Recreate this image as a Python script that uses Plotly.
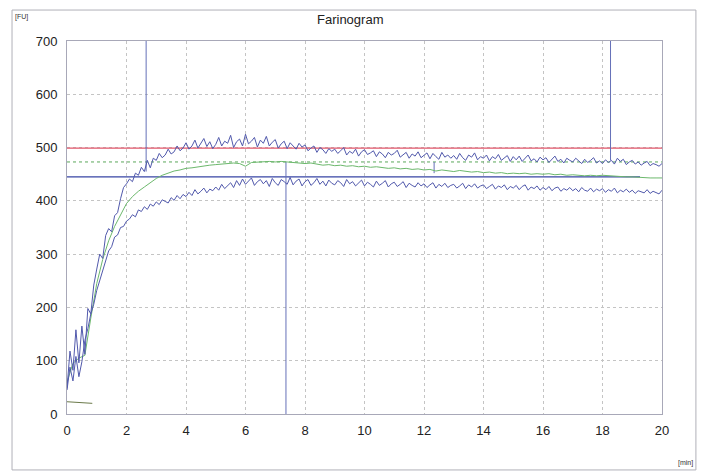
import plotly.graph_objects as go

# ---------------- data ----------------
t_fine = [i / 10 for i in range(201)]          # 0.0 .. 20.0 min
t_green = [i / 5 for i in range(101)]          # 0.0 .. 20.0 min

upper = [
    48, 118, 82, 158, 96, 165, 112, 198, 188, 242,
    272, 300, 292, 335, 348, 342, 372, 378, 404, 425,
    432, 441, 436, 452, 448, 463, 455, 476, 462, 480,
    476, 489, 481, 486, 497, 488, 492, 503, 494, 499,
    509, 497, 503, 514, 499, 507, 517, 502, 511, 498,
    506, 519, 503, 512, 508, 523, 500, 511, 516, 503,
    525, 507, 512, 519, 501, 514, 508, 521, 503, 510,
    515, 499, 507, 512, 498, 509, 503, 497, 508, 501,
    505, 494, 499, 503, 491, 500, 496, 489, 498, 493,
    497, 489, 494, 500, 486, 493, 489, 497, 484, 492,
    496, 487, 490, 494, 483, 492, 488, 481, 491, 486,
    489, 495, 482, 487, 491, 480, 488, 484, 492, 481,
    486, 490, 479, 489, 483, 478, 491, 482, 486, 480,
    485, 478, 489, 481, 476, 486, 482, 490, 477, 483,
    480, 486, 475, 483, 479, 487, 476, 481, 485, 474,
    483, 477, 484, 474, 480, 486, 475, 479, 473, 482,
    477, 481, 472, 479, 484, 474, 478, 471, 480, 476,
    473, 480, 474, 470, 478, 472, 476, 481, 471, 475,
    470, 477, 472, 476, 469, 480, 474, 478, 468, 473,
    476, 469, 473, 467, 471, 474, 466, 470, 468, 465,
    470,
]

lower = [
    45, 88, 62, 108, 70, 98, 138, 160, 188, 206,
    232, 250, 272, 288, 306, 314, 332, 336, 350, 352,
    362, 366, 374, 370, 383, 380, 389, 384, 394, 390,
    398, 393, 402, 399, 396, 406, 401, 410, 404, 412,
    408, 416, 410, 421, 413, 418, 424, 415, 422, 419,
    426, 420, 431, 423, 428, 434, 425, 438, 429, 441,
    431, 437, 443, 429, 436, 440, 432, 438, 427, 442,
    434, 429, 440, 436, 431, 444, 430, 437, 441, 428,
    436, 440, 429, 434, 442, 431, 437, 428, 439, 433,
    430, 438, 434, 427, 440, 432, 436, 428, 434, 439,
    428, 435, 431, 426, 437, 429, 433, 438, 426, 432,
    435, 427, 431, 436, 425, 433, 429, 426, 434, 428,
    432, 425, 430, 434, 424, 431, 427, 433, 425, 429,
    431, 424, 428, 433, 423, 430, 426, 432, 424, 428,
    430, 423, 427, 431, 422, 428, 425, 430, 421, 427,
    424, 429, 421, 427, 430, 420, 426, 423, 428, 420,
    425, 421, 427, 419, 424, 426, 418, 423, 420, 425,
    419, 423, 417, 425, 420, 418, 424, 417, 422, 419,
    423, 416, 421, 418, 424, 415, 420, 417, 422, 416,
    420, 414, 419, 417, 415, 421, 414, 418, 416, 413,
    420,
]

middle = [
    60, 95, 105, 110, 180, 245, 290, 325, 352, 375,
    395, 408, 418, 426, 434, 442, 448, 452, 456, 458,
    461, 462, 464, 466, 467, 468, 469, 470, 471, 470,
    465, 472, 473, 473, 474, 473, 474, 473, 472, 471,
    470, 471, 469, 467, 468, 466, 467, 465, 466, 464,
    465, 463, 464, 462, 461, 462, 460, 461, 459, 460,
    458, 459, 456, 458, 456, 455, 457, 455, 454, 455,
    453, 454, 452, 453, 451, 452, 451, 452, 450, 451,
    450, 451, 449, 450, 448, 449, 448, 447, 448, 447,
    448, 447, 446, 446, 445, 445, 444, 444, 443, 443,
    443,
]

# baseline trace near start
base_t = [0.0, 0.3, 0.6, 0.85]
base_v = [23, 22, 21, 20]

# reference levels
red_level = 499
green_level = 473
blue_level = 445
blue_level_end = 19.26

# vertical markers: time, from, to
marker_t = [2.66, 7.36, 12.34, 18.27]
marker_from = [700, 473, 473, 700]
marker_to = [455, 0, 452, 476]

x_ticks = [0, 2, 4, 6, 8, 10, 12, 14, 16, 18, 20]
y_ticks = [0, 100, 200, 300, 400, 500, 600, 700]

# ---------------- figure ----------------
BLUE = "#5159ac"
fig = go.Figure()

fig.add_trace(go.Scatter(x=[0, 20], y=[red_level, red_level], mode="lines",
                         line=dict(color="#e2566a", width=1.3)))
fig.add_trace(go.Scatter(x=[0, 20], y=[green_level, green_level], mode="lines",
                         line=dict(color="#5aa85a", width=1, dash="dot")))
fig.add_trace(go.Scatter(x=[0, blue_level_end], y=[blue_level, blue_level], mode="lines",
                         line=dict(color="#3745a4", width=1.3)))

for tm, a, b in zip(marker_t, marker_from, marker_to):
    fig.add_trace(go.Scatter(x=[tm, tm], y=[a, b], mode="lines",
                             line=dict(color="#6570b8", width=1)))

fig.add_trace(go.Scatter(x=t_green, y=middle, mode="lines",
                         line=dict(color="#6cb86c", width=1)))
fig.add_trace(go.Scatter(x=t_fine, y=upper, mode="lines",
                         line=dict(color=BLUE, width=1)))
fig.add_trace(go.Scatter(x=t_fine, y=lower, mode="lines",
                         line=dict(color=BLUE, width=1)))
fig.add_trace(go.Scatter(x=base_t, y=base_v, mode="lines",
                         line=dict(color="#6b7a4a", width=1)))

axis_font = dict(family="Liberation Sans, Arial, sans-serif", size=13, color="#222")

fig.update_layout(
    width=701, height=472,
    margin=dict(l=67, r=39, t=41, b=58, autoexpand=False),
    paper_bgcolor="white", plot_bgcolor="white",
    showlegend=False,
    xaxis=dict(range=[0, 20], tickvals=x_ticks, ticks="", showgrid=True,
               gridcolor="#c4c4c4", griddash="dot", gridwidth=1,
               showline=True, linecolor="#a8a8b8", linewidth=1, mirror=True,
               zeroline=False, tickfont=axis_font, ticklabelstandoff=4,
               fixedrange=True),
    yaxis=dict(range=[0, 700], tickvals=y_ticks, ticks="", showgrid=True,
               gridcolor="#c4c4c4", griddash="dot", gridwidth=1,
               showline=True, linecolor="#a8a8b8", linewidth=1, mirror=True,
               zeroline=False, tickfont=axis_font, ticklabelstandoff=6,
               fixedrange=True),
    shapes=[dict(type="rect", xref="paper", yref="paper",
                 x0=-0.0924, x1=1.057, y0=-0.150, y1=1.083,
                 line=dict(color="#b0b0b8", width=1), layer="below")],
    annotations=[
        dict(text="Farinogram", xref="paper", yref="paper", x=0.476, y=1.0,
             xanchor="center", yanchor="middle", yshift=22, showarrow=False,
             font=dict(family="Liberation Sans, Arial, sans-serif", size=13, color="#222")),
        dict(text="[FU]", xref="paper", yref="paper", x=-0.0924, y=1.083,
             xanchor="left", yanchor="top", xshift=1, yshift=-1, showarrow=False,
             font=dict(family="Liberation Sans, Arial, sans-serif", size=7, color="#333")),
        dict(text="[min]", xref="paper", yref="paper", x=1.057, y=-0.150,
             xanchor="right", yanchor="bottom", xshift=-1, yshift=1, showarrow=False,
             font=dict(family="Liberation Sans, Arial, sans-serif", size=7, color="#333")),
    ],
)

fig.write_html("out.html")
